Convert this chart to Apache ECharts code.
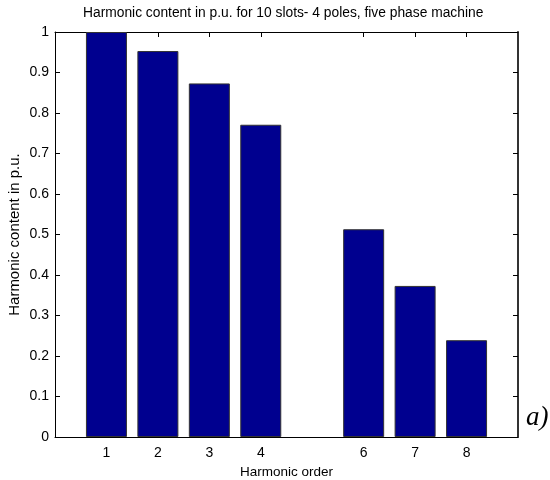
<!DOCTYPE html>
<html><head><meta charset="utf-8">
<script src="https://cdn.jsdelivr.net/npm/echarts@6/dist/echarts.min.js"></script>
<style>html,body{margin:0;padding:0;background:#fff}#c{width:550px;height:480px}</style>
</head><body><div id="c"></div>
<script>
const harmonicOrders = [1, 2, 3, 4, 6, 7, 8];
const harmonicValues = [1.0, 0.953, 0.873, 0.771, 0.513, 0.373, 0.239];
const yTicks = [0, 0.1, 0.2, 0.3, 0.4, 0.5, 0.6, 0.7, 0.8, 0.9, 1];

const chart = echarts.init(document.getElementById('c'), null, {renderer: 'canvas'});
const font = 'Liberation Sans, Arial, sans-serif';
chart.setOption({
  animation: false,
  title: {
    text: 'Harmonic content in p.u. for 10 slots- 4 poles, five phase machine',
    left: 78, top: 1,
    textStyle: {fontFamily: font, fontSize: 13.8, fontWeight: 'normal', color: '#000'}
  },
  grid: {left: 55, right: 32, top: 32, bottom: 43, outerBoundsMode: 'none', containLabel: false},
  xAxis: [{
    type: 'value', min: 0, max: 9, position: 'bottom',
    name: 'Harmonic order', nameLocation: 'middle', nameGap: 25,
    nameTextStyle: {fontFamily: font, fontSize: 13.5, color: '#000'},
    axisLine: {show: true, onZero: false, lineStyle: {color: '#000', width: 1}},
    axisTick: {show: true, inside: true, length: 5, customValues: harmonicOrders, lineStyle: {color: '#000'}},
    axisLabel: {customValues: harmonicOrders, fontFamily: font, fontSize: 14, color: '#000', margin: 9},
    splitLine: {show: false}
  }, {
    type: 'value', min: 0, max: 9, position: 'top',
    axisLine: {show: true, onZero: false, lineStyle: {color: '#000', width: 1}},
    axisTick: {show: true, inside: true, length: 5, customValues: harmonicOrders, lineStyle: {color: '#000'}},
    axisLabel: {show: false},
    splitLine: {show: false}
  }],
  yAxis: [{
    type: 'value', min: 0, max: 1, interval: 0.1, position: 'left',
    name: 'Harmonic content in p.u.', nameLocation: 'middle', nameGap: 33, nameMoveOverlap: false,
    nameTextStyle: {fontFamily: font, fontSize: 15, color: '#000'},
    axisLine: {show: true, onZero: false, lineStyle: {color: '#000', width: 1}},
    axisTick: {show: true, inside: true, length: 5, lineStyle: {color: '#000'}},
    axisLabel: {fontFamily: font, fontSize: 14, color: '#000', margin: 6,
      formatter: v => { const t = yTicks.find(x => Math.abs(x - v) < 1e-9); return t === undefined ? '' : String(t); }},
    splitLine: {show: false}
  }, {
    type: 'value', min: 0, max: 1, interval: 0.1, position: 'right',
    axisLine: {show: true, onZero: false, lineStyle: {color: '#333', width: 2}},
    axisTick: {show: true, inside: true, length: 5, lineStyle: {color: '#000'}},
    axisLabel: {show: false},
    splitLine: {show: false}
  }],
  series: [{
    type: 'bar',
    xAxisIndex: 0, yAxisIndex: 0,
    barWidth: 41,
    data: harmonicOrders.map((h, i) => [h, harmonicValues[i]]),
    itemStyle: {color: '#00008F', borderColor: '#333', borderWidth: 1}
  }],
  graphic: [{
    type: 'text', left: 526, top: 404,
    style: {text: 'a)', font: 'italic 27px "Liberation Serif", "Times New Roman", serif', fill: '#000'}
  }]
});
</script></body></html>
